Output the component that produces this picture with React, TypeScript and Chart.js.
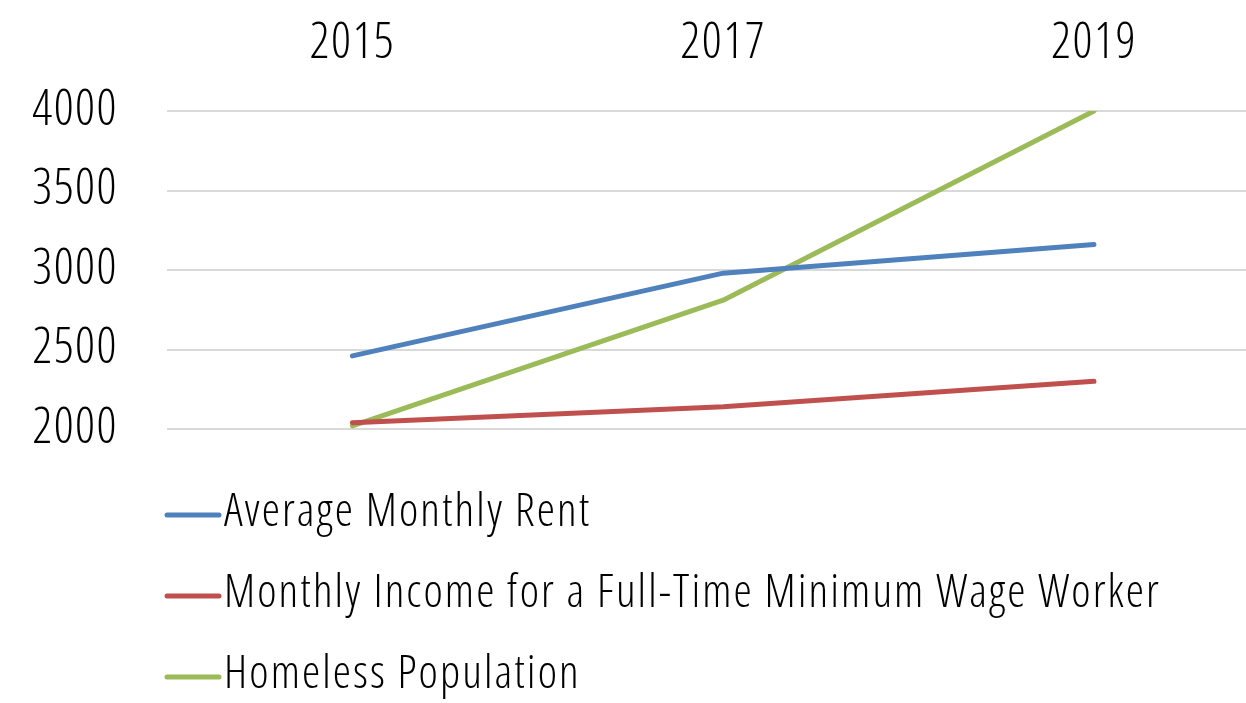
import React, { useEffect, useRef } from "react";
import { Chart, registerables } from "chart.js";

Chart.register(...registerables);

const years = [2015, 2017, 2019];
const yearLabels = ["2015", "2017", "2019"];
const rent = [2460, 2980, 3160];
const income = [2040, 2140, 2300];
const homeless = [2020, 2810, 4000];
const seriesNames = [
  "Average Monthly Rent",
  "Monthly Income for a Full-Time Minimum Wage Worker",
  "Homeless Population",
];
const yTicks = [2000, 2500, 3000, 3500, 4000];

const FONT = "'Open Sans', sans-serif";
const COLORS = ["#4F81BD", "#C0504D", "#9BBB59"];

const setCondensed = (chart: any) => {
  const ctx = chart.ctx as any;
  ctx.letterSpacing = "1.5px";
  ctx.fontStretch = "condensed";
};

const condensedFont = {
  id: "condensedFont",
  beforeInit: setCondensed,
  beforeUpdate: setCondensed,
  beforeLayout: setCondensed,
  beforeDraw: setCondensed,
};

const verticalLegend = {
  id: "verticalLegend",
  afterDraw(chart: any) {
    const ctx = chart.ctx as any;
    const area = chart.chartArea;
    ctx.save();
    ctx.letterSpacing = "2.1px";
    ctx.font = `350 46px ${FONT}`;
    ctx.fontStretch = "condensed";
    ctx.textBaseline = "middle";
    ctx.textAlign = "left";
    chart.data.datasets.forEach((ds: any, i: number) => {
      const y = area.bottom + 86 + i * 81;
      ctx.strokeStyle = ds.borderColor;
      ctx.lineWidth = 5;
      ctx.lineCap = "round";
      ctx.beginPath();
      ctx.moveTo(area.left, y);
      ctx.lineTo(area.left + 52, y);
      ctx.stroke();
      ctx.fillStyle = "#000000";
      ctx.fillText(ds.label, area.left + 57, y - 2);
    });
    ctx.restore();
  },
};

export default function App() {
  const ref = useRef<HTMLCanvasElement | null>(null);

  useEffect(() => {
    if (!ref.current) return;
    const mk = (vals: number[]) => years.map((x, i) => ({ x, y: vals[i] }));
    const seriesVals = [rent, income, homeless];
    const chart = new Chart(ref.current, {
      type: "line",
      data: {
        datasets: seriesVals.map((vals, i) => ({
          label: seriesNames[i],
          data: mk(vals),
          borderColor: COLORS[i],
          backgroundColor: COLORS[i],
          borderWidth: 5,
          borderCapStyle: "round",
          borderJoinStyle: "round",
          pointRadius: 0,
          pointHoverRadius: 0,
          tension: 0,
          fill: false,
        })),
      },
      options: {
        animation: false,
        responsive: true,
        maintainAspectRatio: false,
        layout: { padding: { left: 0, right: 0, top: 0, bottom: 274 } },
        plugins: {
          legend: { display: false },
          tooltip: { enabled: false },
        },
        scales: {
          x: {
            type: "linear",
            position: "top",
            min: 2014,
            max: 2019.82,
            afterBuildTicks: (s: any) => {
              s.ticks = years.map((v) => ({ value: v }));
            },
            afterFit: (s: any) => {
              s.height = 111;
            },
            grid: { display: false, drawTicks: false },
            border: { display: false },
            ticks: {
              color: "#000000",
              padding: 38,
              font: { family: FONT, size: 49, weight: 350 },
              callback: (v: any) => {
                const idx = years.indexOf(Number(v));
                return idx >= 0 ? yearLabels[idx] : "";
              },
            },
          },
          y: {
            min: 2000,
            max: 4000,
            afterBuildTicks: (s: any) => {
              s.ticks = yTicks.map((v) => ({ value: v }));
            },
            afterFit: (s: any) => {
              s.width = 167;
            },
            grid: { color: "#D9D9D9", lineWidth: 2, drawTicks: false },
            border: { display: false },
            ticks: {
              color: "#000000",
              padding: 49,
              font: { family: FONT, size: 49, weight: 350 },
              callback: (v: any) => String(v),
            },
          },
        },
      },
      plugins: [condensedFont, verticalLegend],
    });
    return () => chart.destroy();
  }, []);

  return (
    <div style={{ position: "absolute", left: 0, top: 0, width: 1246, height: 703, background: "#ffffff" }}>
      <canvas ref={ref} />
    </div>
  );
}
